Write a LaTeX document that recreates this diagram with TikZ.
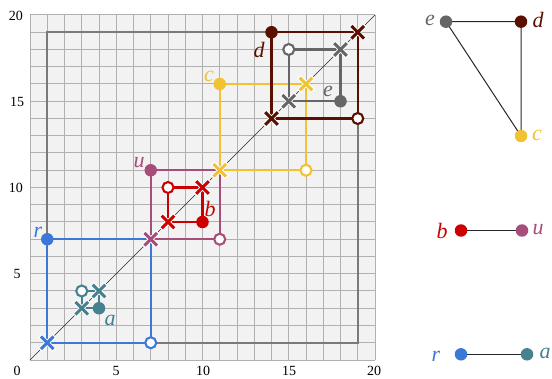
\documentclass[tikz,border=0pt]{standalone}
\usepackage{fontspec}
\setmainfont{Liberation Serif}
\usetikzlibrary{shapes.misc}
\definecolor{cr}{HTML}{3C78D8}
\definecolor{ca}{HTML}{45818E}
\definecolor{cb}{HTML}{CC0000}
\definecolor{cu}{HTML}{A64D79}
\definecolor{cc}{HTML}{F1C232}
\definecolor{cd}{HTML}{5B0F00}
\definecolor{ce}{HTML}{666666}
\definecolor{gridbg}{HTML}{F2F2F2}
\definecolor{gridln}{HTML}{B0B0B0}
\definecolor{boxc}{HTML}{7A7A7A}
\tikzset{
  featline/.style={line width=2.3pt},
  fdot/.style={circle, fill=#1, minimum size=12.5pt, inner sep=0pt},
  odot/.style={circle, draw=#1, fill=white, line width=2.1pt, minimum size=11pt, inner sep=0pt},
  xhalo/.style={cross out, draw=white, line width=4.8pt, minimum size=9.5pt, inner sep=0pt},
  xmk/.style={cross out, draw=#1, line width=3.1pt, minimum size=9.5pt, inner sep=0pt},
  lab/.style={font=\fontsize{22}{25}\selectfont\itshape, text=#1, inner sep=0pt},
  num/.style={font=\fontsize{14}{16}\selectfont, inner sep=0pt},
  gdot/.style={circle, fill=#1, minimum size=12.5pt, inner sep=0pt},
  gedge/.style={draw=black!85, line width=1pt},
}
\newcommand\featsq[6]{%
  \coordinate (#1f) at #5;
  \coordinate (#1o) at #6;
  \coordinate (#1b) at (#3,#3);
  \coordinate (#1d) at (#4,#4);
  \draw[featline,#2] (#1f) -- (#1b) -- (#1o) -- (#1d) -- cycle;
  \node[xhalo] (#1bh) at (#1b) {};
  \node[xmk=#2] (#1bx) at (#1b) {};
  \node[xhalo] (#1dh) at (#1d) {};
  \node[xmk=#2] (#1dx) at (#1d) {};
  \node[odot=#2] (#1od) at (#1o) {};
  \node[fdot=#2] (#1fd) at (#1f) {};
}
\begin{document}
\begin{tikzpicture}[x=1pt,y=1pt]
\useasboundingbox (0,0) rectangle (552,378);
\begin{scope}[shift={(30pt,18pt)},x=17.25pt,y=17.25pt]
  \fill[gridbg] (0,0) rectangle (20,20);
  \foreach \i in {0,...,20} {
    \draw[gridln, line width=1pt] (\i,0) -- (\i,20);
    \draw[gridln, line width=1pt] (0,\i) -- (20,\i);
  }
  \draw[boxc, line width=2pt] (1,1) rectangle (19,19);
  \coordinate (o0) at (0,0);
  \coordinate (o20) at (20,20);
  \draw[black!85, line width=0.6pt] (o0) -- (o20);
  \featsq{r}{cr}{1}{7}{(1,7)}{(7,1)}
  \featsq{a}{ca}{3}{4}{(4,3)}{(3,4)}
  \featsq{u}{cu}{7}{11}{(7,11)}{(11,7)}
  \featsq{b}{cb}{8}{10}{(10,8)}{(8,10)}
  \featsq{c}{cc}{11}{16}{(11,16)}{(16,11)}
  \featsq{d}{cd}{14}{19}{(14,19)}{(19,14)}
  \featsq{e}{ce}{15}{18}{(18,15)}{(15,18)}
\end{scope}
% feature labels
\node[lab=cr] (lr) at (38,146) {r};
\node[lab=ca] (la) at (110,58) {a};
\node[lab=cu] (lu) at (139,215) {u};
\node[lab=cb] (lb) at (210,169) {b};
\node[lab=cc] (lc) at (209,302) {c};
\node[lab=cd] (ld) at (259,328) {d};
\node[lab=ce] (le) at (328,287) {e};
% axis labels
\node[num] (x0) at (17,7.5) {0};
\node[num] (x5) at (116,7.5) {5};
\node[num] (x10) at (203,7.5) {10};
\node[num] (x15) at (289,7.5) {15};
\node[num] (x20) at (374,7.5) {20};
\node[num] (y20) at (16,362) {20};
\node[num] (y15) at (17,276) {15};
\node[num] (y10) at (16,190) {10};
\node[num] (y5) at (17,104) {5};
% graph
\coordinate (ge) at (446,356.3);
\coordinate (gd) at (521,356.3);
\coordinate (gc) at (521,242);
\coordinate (gb) at (461,147.5);
\coordinate (gu) at (522,147.5);
\coordinate (gr) at (461,23.7);
\coordinate (ga) at (527,23.7);
\draw[gedge] (ge) -- (gd) -- (gc) -- (ge);
\draw[gedge] (gb) -- (gu);
\draw[gedge] (gr) -- (ga);
\node[gdot=ce] (ne) at (ge) {};
\node[gdot=cd] (nd) at (gd) {};
\node[gdot=cc] (nc) at (gc) {};
\node[gdot=cb] (nb) at (gb) {};
\node[gdot=cu] (nu) at (gu) {};
\node[gdot=cr] (nr) at (gr) {};
\node[gdot=ca] (na) at (ga) {};
\node[lab=ce] (tle) at (430,358) {e};
\node[lab=cd] (tld) at (538,358) {d};
\node[lab=cc] (tlc) at (537,243) {c};
\node[lab=cb] (tlb) at (442,147) {b};
\node[lab=cu] (tlu) at (538,148) {u};
\node[lab=cr] (tlr) at (436,22) {r};
\node[lab=ca] (tla) at (545,25) {a};
\end{tikzpicture}
\end{document}
